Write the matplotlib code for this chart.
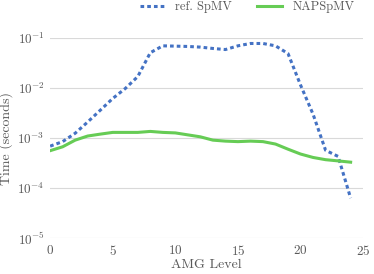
import matplotlib
matplotlib.use("Agg")
import matplotlib.pyplot as plt

levels = list(range(25))
ref_spmv = [6.9e-4, 8.5e-4, 1.25e-3, 2.1e-3, 3.6e-3, 6.2e-3, 9.8e-3, 1.7e-2, 5.1e-2,
            7.0e-2, 6.9e-2, 6.8e-2, 6.6e-2, 6.2e-2, 5.9e-2, 7.0e-2, 7.8e-2, 7.8e-2,
            7.0e-2, 4.9e-2, 1.15e-2, 3.0e-3, 5.7e-4, 4.3e-4, 6.3e-5]
nap_spmv = [5.6e-4, 6.7e-4, 9.1e-4, 1.1e-3, 1.2e-3, 1.3e-3, 1.3e-3, 1.3e-3, 1.36e-3,
            1.3e-3, 1.27e-3, 1.16e-3, 1.06e-3, 9.1e-4, 8.7e-4, 8.5e-4, 8.7e-4, 8.5e-4,
            7.6e-4, 6.0e-4, 4.8e-4, 4.1e-4, 3.7e-4, 3.5e-4, 3.3e-4]

plt.rcParams['font.family'] = 'serif'
plt.rcParams['font.serif'] = ['cmr10', 'DejaVu Serif']
plt.rcParams['mathtext.fontset'] = 'cm'
plt.rcParams['axes.formatter.use_mathtext'] = True

fig = plt.figure(figsize=(3.74, 2.74), dpi=100)
ax = fig.add_axes([0.134, 0.131, 0.837, 0.73])

ax.plot(levels, ref_spmv, color='#4472C4', lw=2.2, ls=(0, (1.2, 1.0)), label='ref. SpMV')
ax.plot(levels, nap_spmv, color='#66CC55', lw=2.2, label='NAPSpMV')

ax.set_yscale('log')
ax.set_ylim(1e-5, 1e-1)
ax.set_xlim(0, 25)
ax.set_xticks([0, 5, 10, 15, 20, 25])
ax.set_yticks([1e-5, 1e-4, 1e-3, 1e-2, 1e-1])
ax.minorticks_off()
ax.grid(axis='y', color='#d9d9d9', lw=0.8)
ax.set_axisbelow(True)
for s in ax.spines.values():
    s.set_visible(False)
ax.tick_params(length=0, labelsize=9.5, colors='#595959', pad=4)
ax.set_xlabel('AMG Level', fontsize=10, color='#595959', labelpad=1)
ax.set_ylabel('Time (seconds)', fontsize=10, color='#595959', labelpad=3)
ax.legend(loc='center', bbox_to_anchor=(0.63, 1.155), ncol=2, frameon=False,
          fontsize=9, labelcolor='#595959', handlelength=2.0, handletextpad=0.8,
          columnspacing=2.0)

fig.savefig('out.png', dpi=100)
